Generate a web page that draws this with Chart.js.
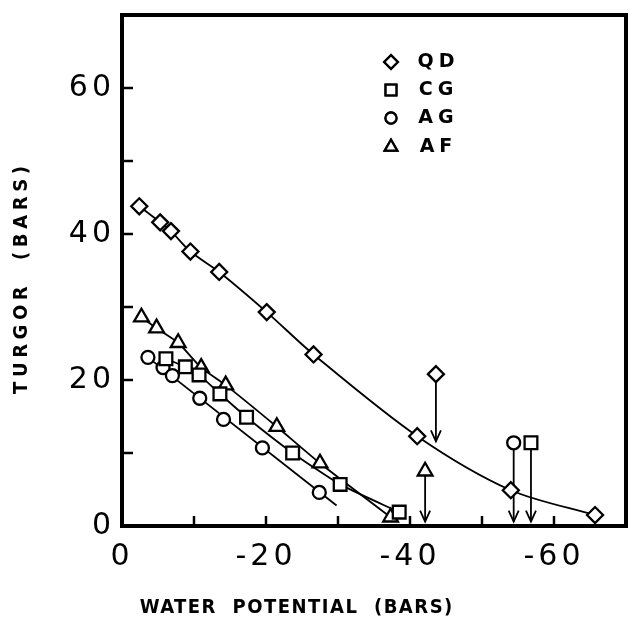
<!DOCTYPE html>
<html>
<head>
<meta charset="utf-8">
<script src="https://cdn.jsdelivr.net/npm/chart.js@4.4.0/dist/chart.umd.min.js"></script>
<style>
  html, body { margin: 0; padding: 0; background: #fff; }
</style>
</head>
<body>
<canvas id="chart" width="629" height="631"></canvas>
<script>
// values (water potential in bars, turgor in bars)
const qdX = [-2.4, -5.3, -6.8, -9.5, -13.5, -20.1, -26.6, -41.0, -54.0, -65.7];
const qdY = [43.8, 41.6, 40.4, 37.6, 34.8, 29.3, 23.5, 12.3, 4.9, 1.5];
const cgX = [-6.1, -8.8, -10.7, -13.6, -17.3, -23.7, -30.3, -38.5];
const cgY = [22.9, 21.8, 20.7, 18.1, 14.9, 10.0, 5.7, 1.9];
const agX = [-3.6, -5.7, -7.0, -10.8, -14.1, -19.5, -27.4];
const agY = [23.1, 21.7, 20.6, 17.5, 14.6, 10.7, 4.6];
const afX = [-2.7, -4.8, -7.8, -11.0, -14.4, -21.5, -27.5, -37.3];
const afY = [28.6, 27.1, 25.1, 21.7, 19.3, 13.6, 8.6, 1.2];

// hand-drawn fit for AG runs past the last point
const agFitX = [-3.6, -29.8];
const agFitY = [23.1, 2.8];

// zero-turgor points marked with arrows
const arrowSeries = ["QD", "AF", "AG", "CG"];
const arrowX = [-43.6, -42.1, -54.4, -56.8];
const arrowTop = [20.8, 7.5, 11.4, 11.4];
const arrowTip = [11.6, 0.6, 0.6, 0.6];

const xLabels = [0, -20, -40, -60];
const yLabels = [0, 20, 40, 60];
const seriesNames = ["QD", "CG", "AG", "AF"];

const marker = {
  QD: { style: "rectRot", r: 8 },
  CG: { style: "rect", r: 9 },
  AG: { style: "circle", r: 6.5 },
  AF: { style: "triangle", r: 8.5 }
};

function pts(xs, ys) {
  return xs.map((v, i) => ({ x: v, y: ys[i] }));
}

function lineSet(data, tension) {
  return {
    data, showLine: true, tension: tension || 0,
    borderColor: "#000", borderWidth: 1.8,
    pointRadius: 0, order: 2
  };
}

function markSet(name, data) {
  return {
    data, showLine: false,
    pointStyle: marker[name].style, pointRadius: marker[name].r,
    pointBackgroundColor: "#fff", pointBorderColor: "#000",
    pointBorderWidth: 2.3, order: 1
  };
}

const datasets = [
  lineSet(pts(qdX, qdY), 0.3),
  lineSet(pts(cgX, cgY), 0.2),
  lineSet(pts(agFitX, agFitY)),
  lineSet(pts(afX, afY), 0.2),
  markSet("QD", pts(qdX, qdY)),
  markSet("CG", pts(cgX, cgY)),
  markSet("AG", pts(agX, agY)),
  markSet("AF", pts(afX, afY))
];

arrowX.forEach((v, i) => {
  const m = marker[arrowSeries[i]];
  datasets.push({
    data: [{ x: v, y: arrowTop[i] }, { x: v, y: arrowTip[i] }],
    showLine: true, borderColor: "#000", borderWidth: 1.8,
    pointStyle: m.style, pointRadius: [m.r, 0],
    pointBackgroundColor: "#fff", pointBorderColor: "#000",
    pointBorderWidth: 2.3, order: 1
  });
});

function spacedText(ctx, text, x, y, font, spacing, angle) {
  ctx.save();
  ctx.translate(x, y);
  if (angle) ctx.rotate(angle);
  ctx.font = font;
  ctx.letterSpacing = spacing + "px";
  ctx.fillStyle = "#000";
  ctx.textAlign = "left";
  ctx.textBaseline = "middle";
  const w = ctx.measureText(text).width - spacing;
  ctx.fillText(text, -w / 2, 0);
  ctx.restore();
}

const decor = {
  id: "decor",
  beforeDraw(chart) {
    chart.ctx.letterSpacing = "4px";
  },
  afterDatasetsDraw(chart) {
    const { ctx, chartArea: a, scales: { x, y } } = chart;
    ctx.save();
    ctx.letterSpacing = "0px";
    ctx.strokeStyle = "#000";
    ctx.fillStyle = "#000";

    // arrow heads
    ctx.lineWidth = 1.8;
    arrowX.forEach((v, i) => {
      const px = x.getPixelForValue(v);
      const py = y.getPixelForValue(arrowTip[i]);
      ctx.beginPath();
      ctx.moveTo(px - 5, py - 11);
      ctx.lineTo(px, py);
      ctx.lineTo(px + 5, py - 11);
      ctx.stroke();
    });

    // frame
    ctx.lineWidth = 4;
    ctx.strokeRect(a.left, a.top, a.right - a.left, a.bottom - a.top);

    // inward tick marks
    ctx.lineWidth = 2.5;
    x.ticks.forEach(t => {
      const px = x.getPixelForValue(t.value);
      if (Math.abs(px - a.left) < 3 || Math.abs(px - a.right) < 3) return;
      ctx.beginPath();
      ctx.moveTo(px, a.bottom);
      ctx.lineTo(px, a.bottom - 10);
      ctx.stroke();
    });
    y.ticks.forEach(t => {
      const py = y.getPixelForValue(t.value);
      if (Math.abs(py - a.top) < 3 || Math.abs(py - a.bottom) < 3) return;
      ctx.beginPath();
      ctx.moveTo(a.left, py);
      ctx.lineTo(a.left + 11, py);
      ctx.stroke();
    });

    // legend
    const rows = [62, 90, 118, 147];
    seriesNames.forEach((n, i) => {
      const m = marker[n];
      ctx.lineWidth = 2.3;
      ctx.fillStyle = "#fff";
      Chart.helpers.drawPoint(ctx, { pointStyle: m.style, radius: m.r * 0.85, borderWidth: 2.3 }, 391, rows[i]);
      ctx.fill();
      ctx.stroke();
      spacedText(ctx, n, 436, rows[i], "bold 19px 'DejaVu Sans'", 5);
    });
    ctx.restore();
  },
  afterDraw(chart) {
    const ctx = chart.ctx;
    ctx.letterSpacing = "0px";
    const f = "bold 20px 'DejaVu Sans Condensed', 'DejaVu Sans'";
    spacedText(ctx, "TURGOR  (BARS)", 22, 280, f, 4.6, -Math.PI / 2);
    spacedText(ctx, "WATER  POTENTIAL  (BARS)", 296, 608, f, 1.5, 0);
  }
};

const tickFont = { family: "'DejaVu Sans'", size: 30, weight: "normal" };

new Chart(document.getElementById("chart"), {
  type: "scatter",
  data: { datasets },
  options: {
    responsive: false,
    animation: false,
    devicePixelRatio: 1,
    layout: { autoPadding: false, padding: { top: 15, right: 3, left: 0, bottom: 0 } },
    plugins: { legend: { display: false }, tooltip: { enabled: false } },
    scales: {
      x: {
        type: "linear", min: -70, max: 0, reverse: true,
        grid: { display: false, drawTicks: false },
        border: { display: false },
        ticks: {
          stepSize: 10, autoSkip: false, maxRotation: 0, padding: 13,
          color: "#000", font: tickFont,
          callback: v => xLabels.includes(v) ? String(v) : ""
        },
        afterFit: s => { s.height = 105; s.paddingLeft = 0; s.paddingRight = 0; }
      },
      y: {
        type: "linear", min: 0, max: 70,
        grid: { display: false, drawTicks: false },
        border: { display: false },
        ticks: {
          stepSize: 10, autoSkip: false, padding: 7,
          color: "#000", font: tickFont,
          callback: v => yLabels.includes(v) ? String(v) : ""
        },
        afterFit: s => { s.width = 122; s.paddingTop = 0; s.paddingBottom = 0; }
      }
    }
  },
  plugins: [decor]
});
</script>
</body>
</html>
